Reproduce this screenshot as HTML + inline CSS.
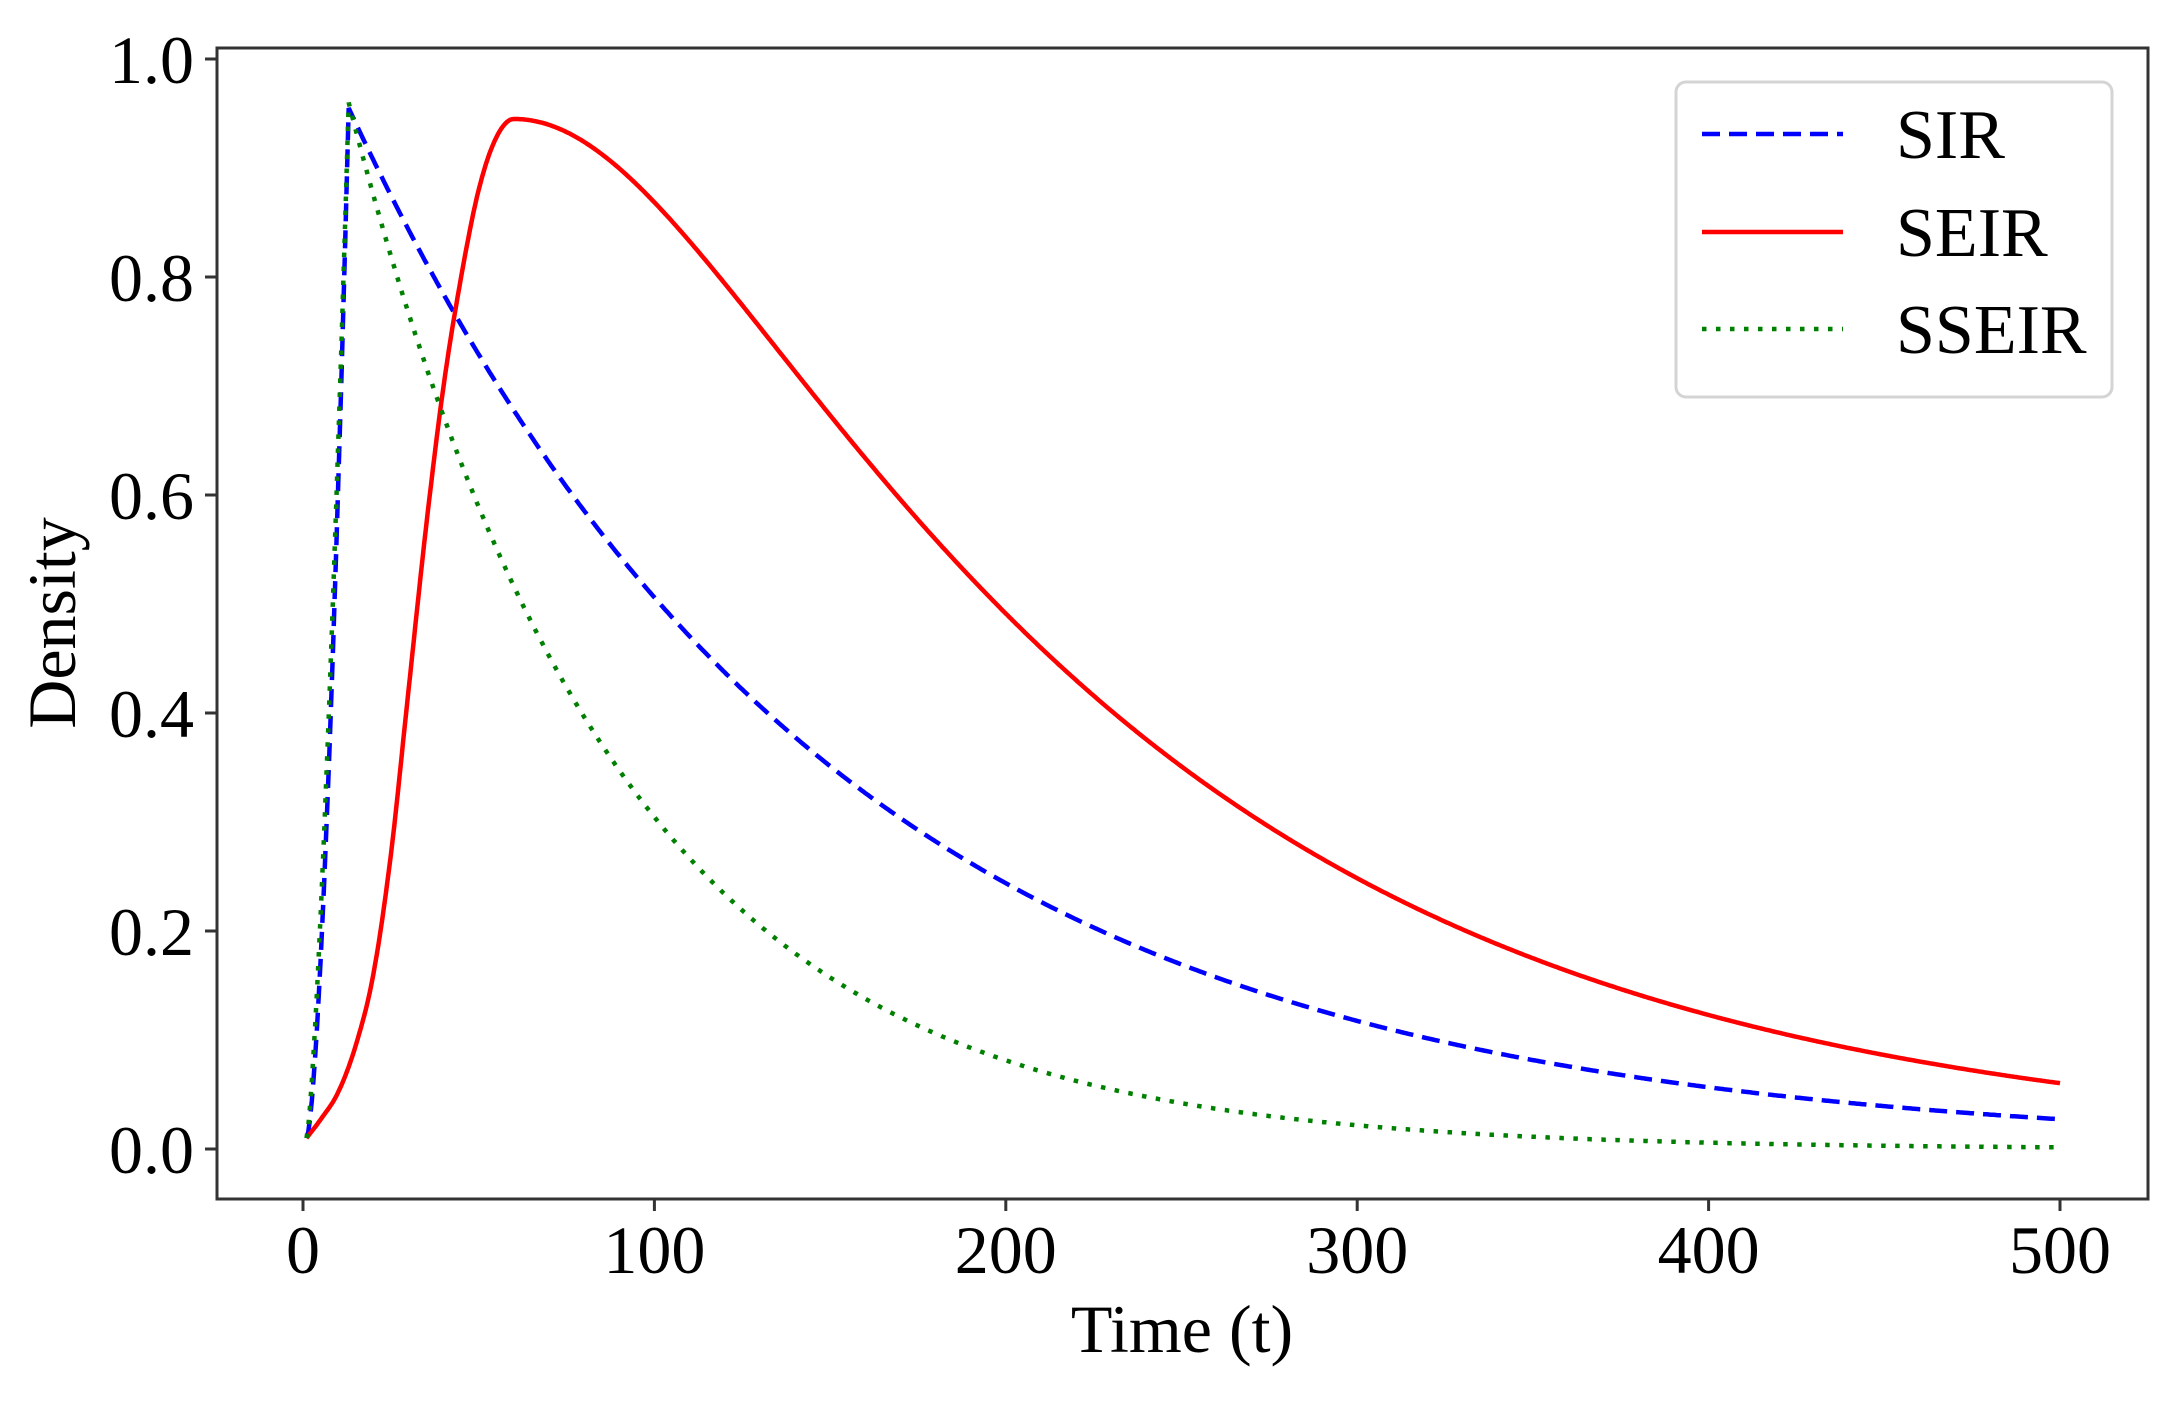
<!DOCTYPE html>
<html><head><meta charset="utf-8"><style>
html,body{margin:0;padding:0;background:#fff;}
svg text{font-family:"Liberation Serif",serif;fill:#000;}
</style></head><body>
<svg id="s" width="2175" height="1397" viewBox="0 0 2175 1397" xmlns="http://www.w3.org/2000/svg">
<rect width="2175" height="1397" fill="#fff"/>
<g id="curves"></g>
<rect x="217" y="48" width="1931" height="1151" fill="none" stroke="#333" stroke-width="3"/>
<g stroke="#333" stroke-width="3">
<line x1="205" y1="59" x2="217" y2="59"/><line x1="205" y1="277" x2="217" y2="277"/>
<line x1="205" y1="495" x2="217" y2="495"/><line x1="205" y1="713" x2="217" y2="713"/>
<line x1="205" y1="931" x2="217" y2="931"/><line x1="205" y1="1149" x2="217" y2="1149"/>
<line x1="303" y1="1199" x2="303" y2="1211"/><line x1="654.4" y1="1199" x2="654.4" y2="1211"/>
<line x1="1005.8" y1="1199" x2="1005.8" y2="1211"/><line x1="1357.2" y1="1199" x2="1357.2" y2="1211"/>
<line x1="1708.6" y1="1199" x2="1708.6" y2="1211"/><line x1="2060" y1="1199" x2="2060" y2="1211"/>
</g>
<g font-size="68" text-anchor="end">
<text x="194" y="83">1.0</text><text x="194" y="301">0.8</text><text x="194" y="519">0.6</text>
<text x="194" y="737">0.4</text><text x="194" y="955">0.2</text><text x="194" y="1173">0.0</text>
</g>
<g font-size="68" text-anchor="middle">
<text x="303" y="1273">0</text><text x="654.4" y="1273">100</text><text x="1005.8" y="1273">200</text>
<text x="1357.2" y="1273">300</text><text x="1708.6" y="1273">400</text><text x="2060" y="1273">500</text>
<text x="1182" y="1352">Time (t)</text>
<text transform="translate(75,623) rotate(-90)">Density</text>
</g>
<rect x="1676" y="82" width="436" height="315" rx="10" fill="#fff" fill-opacity="0.85" stroke="#d4d4d4" stroke-width="3"/>
<line x1="1702" y1="134" x2="1843" y2="134" stroke="#0000ff" stroke-width="4.5" stroke-dasharray="18 9"/>
<line x1="1702" y1="232" x2="1843" y2="232" stroke="#ff0000" stroke-width="4.5"/>
<line x1="1702" y1="329" x2="1843" y2="329" stroke="#008000" stroke-width="4.5" stroke-dasharray="4.5 9.5"/>
<g font-size="70"><text x="1896" y="158">SIR</text><text x="1896" y="256">SEIR</text><text x="1896" y="353">SSEIR</text></g>
</svg>
<script>
function X(t){return 303+t*3.514;}function Y(v){return 1149-v*1090;}
function mono(pts){var n=pts.length,xs=pts.map(p=>p[0]),ys=pts.map(p=>p[1]),d=[],m=[];
for(var i=0;i<n-1;i++)d.push((ys[i+1]-ys[i])/(xs[i+1]-xs[i]));
m[0]=d[0];m[n-1]=0;for(i=1;i<n-1;i++)m[i]=(d[i-1]*d[i]<=0)?0:(d[i-1]+d[i])/2;
return function(t){for(var i=0;i<n-2&&t>xs[i+1];i++);var h=xs[i+1]-xs[i],s=(t-xs[i])/h;
var h00=2*s*s*s-3*s*s+1,h10=s*s*s-2*s*s+s,h01=-2*s*s*s+3*s*s,h11=s*s*s-s*s;
return h00*ys[i]+h10*h*m[i]+h01*ys[i+1]+h11*h*m[i+1];};}
function sir(t){if(t<=13)return 0.01+0.945*Math.pow((t-1)/12,1.6);return 0.955*Math.exp(-0.0073*(t-13));}
function sse(t){if(t<=13)return 0.01+0.95*Math.pow((t-1)/12,1.4);return 0.96*Math.exp(-0.0132*(t-13));}
var rise=mono([[1,0.01],[5,0.027],[10,0.052],[15,0.095],[20,0.16],[25,0.27],[30,0.42],[35,0.57],[40,0.70],[45,0.80],[50,0.88],[55,0.928],[60,0.945]]);
function seir(t){if(t<=60)return rise(t);var s=t-60;return 0.945*Math.exp(-0.0072*(Math.sqrt(s*s+3894)-62.4));}
function path(f){var s="";for(var t=1;t<=500;t+=0.5){s+=(t==1?"M":"L")+X(t).toFixed(1)+","+Y(f(t)).toFixed(1);}return s;}
var g=document.getElementById("curves");
g.innerHTML='<path d="'+path(sir)+'" fill="none" stroke="#0000ff" stroke-width="4.5" stroke-dasharray="18 9"/>'+
'<path d="'+path(seir)+'" fill="none" stroke="#ff0000" stroke-width="4.5"/>'+
'<path d="'+path(sse)+'" fill="none" stroke="#008000" stroke-width="4.5" stroke-dasharray="4.5 9.5"/>';
</script>
</body></html>
